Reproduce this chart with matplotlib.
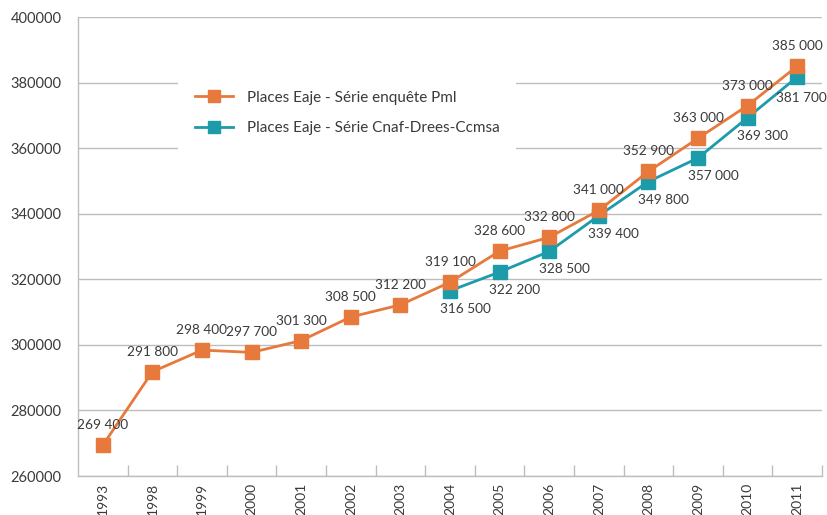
import matplotlib
matplotlib.use("Agg")
import matplotlib.pyplot as plt
import numpy as np

years = ["1993", "1998", "1999", "2000", "2001", "2002", "2003", "2004",
         "2005", "2006", "2007", "2008", "2009", "2010", "2011"]
pmi = [269400, 291800, 298400, 297700, 301300, 308500, 312200, 319100,
       328600, 332800, 341000, 352900, 363000, 373000, 385000]
cnaf_years = ["2004", "2005", "2006", "2007", "2008", "2009", "2010", "2011"]
cnaf = [316500, 322200, 328500, 339400, 349800, 357000, 369300, 381700]
yticks = [260000, 280000, 300000, 320000, 340000, 360000, 380000, 400000]

ORANGE = "#E8793D"
CYAN = "#1C9BAA"
GRID = "#BDBDBD"
TXT = "#3A3A3A"

plt.rcParams['font.family'] = ['Lato', 'DejaVu Sans']
fig = plt.figure(figsize=(8.27, 5.15), dpi=100)
ax = fig.add_axes([78/827, 1-476/515, (822-78)/827, (476-17)/515])

x = np.arange(len(years))
xc = np.array([years.index(y) for y in cnaf_years])

ax.plot(xc, cnaf, color=CYAN, lw=2, marker='s', ms=10.5, mec=CYAN, mfc=CYAN,
        label="Places Eaje - Série Cnaf-Drees-Ccmsa", zorder=3)
ax.plot(x, pmi, color=ORANGE, lw=2, marker='s', ms=10.5, mec=ORANGE, mfc=ORANGE,
        label="Places Eaje - Série enquête Pml", zorder=4)

lblfont = dict(fontsize=9.8, color=TXT)

def fmt(v):
    return f"{v:,}".replace(",", " ")

for xi, v in zip(x, pmi):
    ax.annotate(fmt(v), (xi, v), xytext=(0, 20), textcoords='offset pixels',
                ha='center', va='center', zorder=6, **lblfont)
for i, (xi, v) in enumerate(zip(xc, cnaf)):
    dx, dy = (15, -18) if i < len(cnaf) - 1 else (4, -21)
    ax.annotate(fmt(v), (xi, v), xytext=(dx, dy), textcoords='offset pixels',
                ha='center', va='center', zorder=6, **lblfont)

ax.set_xlim(-0.5, len(years) - 0.5)
ax.set_ylim(260000, 400000)
ax.set_yticks(yticks)
ax.set_yticklabels([str(t) for t in yticks], fontsize=10.5, color=TXT)
ax.set_xticks(x)
ax.set_xticklabels(years, rotation=90, fontsize=10, color=TXT)
ax.tick_params(axis='x', which='major', length=0, pad=5)
ax.tick_params(axis='y', length=0, pad=12)
ax.set_xticks(np.arange(0.5, len(years), 1.0), minor=True)
ax.tick_params(axis='x', which='minor', direction='in', length=8, color=GRID, width=1)

ax.grid(axis='y', color=GRID, lw=1)
ax.set_axisbelow(True)
for s in ['top', 'right']:
    ax.spines[s].set_visible(False)
for s in ['left', 'bottom']:
    ax.spines[s].set_color(GRID)
    ax.spines[s].set_linewidth(1)

handles, labels = ax.get_legend_handles_labels()
leg = ax.legend(handles[::-1], labels[::-1], loc='upper left',
                bbox_to_anchor=(178/827, 1-74/515), bbox_transform=fig.transFigure,
                frameon=True, facecolor='white', edgecolor='white', framealpha=1,
                fancybox=False, fontsize=11, labelspacing=1.05, handlelength=2.5,
                borderpad=1.1, borderaxespad=0, handletextpad=0.9)
for t in leg.get_texts():
    t.set_color(TXT)
leg.get_frame().set_linewidth(0)
for h in leg.legend_handles:
    h.set_markersize(9)

fig.savefig("out.png", dpi=100)
